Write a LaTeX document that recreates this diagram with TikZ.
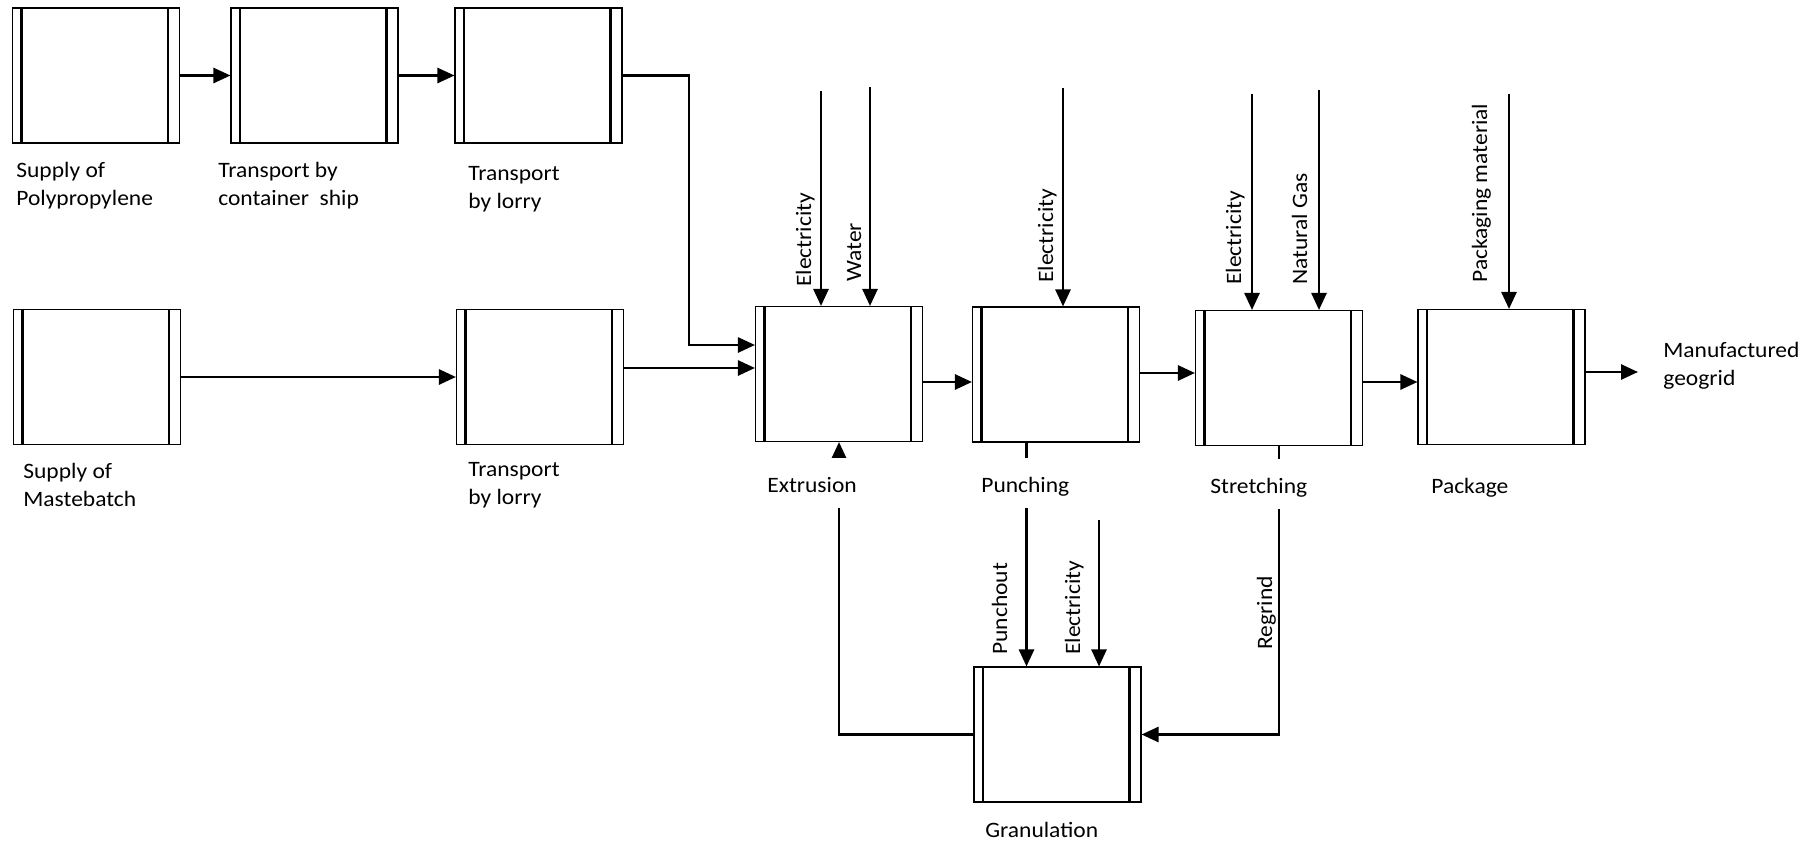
\documentclass[tikz,border=0pt]{standalone}
\usepackage{fontspec}
\setmainfont{Carlito}[FakeStretch=1.07]
\usetikzlibrary{arrows.meta}
\lineskiplimit=-20pt

\begin{document}
\begin{tikzpicture}[
  font=\fontsize{12.5}{15.9}\selectfont,
  proc/.style={draw, line width=0.6pt, minimum width=3.34cm, minimum height=2.7cm, inner sep=0pt,
    path picture={\draw[line width=1.6pt]
      ([xshift=0.18cm]path picture bounding box.south west) -- ([xshift=0.18cm]path picture bounding box.north west)
      ([xshift=-0.23cm]path picture bounding box.south east) -- ([xshift=-0.23cm]path picture bounding box.north east);}},
  flow/.style={-{Triangle[length=3.4mm,width=3mm]}, line width=1.5pt},
  lbl/.style={inner sep=0pt, align=left, anchor=north west},
  sub/.style={inner sep=0pt, anchor=base west, fill=white, text height=0.68cm, text depth=0.32cm},
  inlbl/.style={inner sep=0pt, anchor=base west, rotate=90}]
\useasboundingbox (0,0) rectangle (36.2,-16.86);

% process boxes
\node[proc] (supPP) at (1.92,-1.51) {};
\node[proc] (ship) at (6.29,-1.51) {};
\node[proc] (lorryA) at (10.77,-1.51) {};
\node[proc] (supMB) at (1.94,-7.54) {};
\node[proc] (lorryB) at (10.80,-7.54) {};
\node[proc] (extr) at (16.78,-7.48) {};
\node[proc] (punch) at (21.12,-7.49) {};
\node[proc] (stretch) at (25.58,-7.56) {};
\node[proc] (pack) at (30.03,-7.54) {};
\node[proc] (gran) at (21.15,-14.69) {};

% main flow
\draw[flow] (supPP) -- (ship);
\draw[flow] (ship) -- (lorryA);
\coordinate (bend) at (13.78,-6.9);
\draw[flow] (lorryA.east) -| (bend) -- (bend -| extr.west);
\draw[flow] (supMB) -- (lorryB);
\draw[flow] (lorryB.east |- 0,-7.36) -- (extr.west |- 0,-7.36);
\draw[flow] (extr.east |- 0,-7.64) -- (punch.west |- 0,-7.64);
\draw[flow] (punch.east |- 0,-7.46) -- (stretch.west |- 0,-7.46);
\draw[flow] (stretch.east |- 0,-7.64) -- (pack.west |- 0,-7.64);
\coordinate (geogrid) at (32.76,-7.44);
\draw[flow] (pack.east |- geogrid) -- (geogrid);

% inputs from above
\coordinate (elA) at (16.42,-1.82);
\coordinate (water) at (17.40,-1.74);
\coordinate (elB) at (21.26,-1.76);
\coordinate (elC) at (25.04,-1.88);
\coordinate (gas) at (26.38,-1.80);
\coordinate (packmat) at (30.18,-1.88);
\coordinate (elD) at (21.98,-10.40);
\draw[flow] (elA) -- (elA |- extr.north);
\draw[flow] (water) -- (water |- extr.north);
\draw[flow] (elB) -- (elB |- punch.north);
\draw[flow] (elC) -- (elC |- stretch.north);
\draw[flow] (gas) -- (gas |- stretch.north);
\draw[flow] (packmat) -- (packmat |- pack.north);
\draw[flow] (elD) -- (elD |- gran.north);

% scrap loop
\draw[flow] (gran.west) -| (extr.south);
\draw[flow] (punch.south -| 20.53,0) -- (gran.north -| 20.53,0);
\draw[flow] (stretch.south) |- (gran.east);

% labels
\node[lbl] (supPPL) at (0.32,-3.24) {Supply of\\Polypropylene};
\node[lbl] (shipL) at (4.36,-3.24) {Transport by\\container\ \ ship};
\node[lbl] (lorryAL) at (9.36,-3.32) {Transport\\by lorry};
\node[lbl] (supMBL) at (0.46,-9.26) {Supply of\\Mastebatch};
\node[lbl] (lorryBL) at (9.36,-9.24) {Transport\\by lorry};
\node[sub] (extrL) at (15.34,-9.84) {Extrusion};
\node[sub] (punchL) at (19.62,-9.84) {Punching};
\node[sub] (stretchL) at (24.2,-9.86) {Stretching};
\node[sub] (packL) at (28.62,-9.86) {Package};
\node[inner sep=0pt, anchor=base west] (granL) at (19.7,-16.74) {Granulation};
\node[lbl] (outL) at (33.26,-6.84) {Manufactured\\geogrid};

\node[inlbl] (elAL) at (16.22,-5.74) {Electricity};
\node[inlbl] (waterL) at (17.22,-5.64) {Water};
\node[inlbl] (elBL) at (21.06,-5.66) {Electricity};
\node[inlbl] (elCL) at (24.82,-5.70) {Electricity};
\node[inlbl] (gasL) at (26.14,-5.70) {Natural Gas};
\node[inlbl] (packmatL) at (29.74,-5.66) {Packaging material};
\node[inlbl] (poutL) at (20.14,-13.10) {Punchout};
\node[inlbl] (elDL) at (21.60,-13.10) {Electricity};
\node[inlbl] (regrindL) at (25.44,-13.00) {Regrind};
\end{tikzpicture}
\end{document}
